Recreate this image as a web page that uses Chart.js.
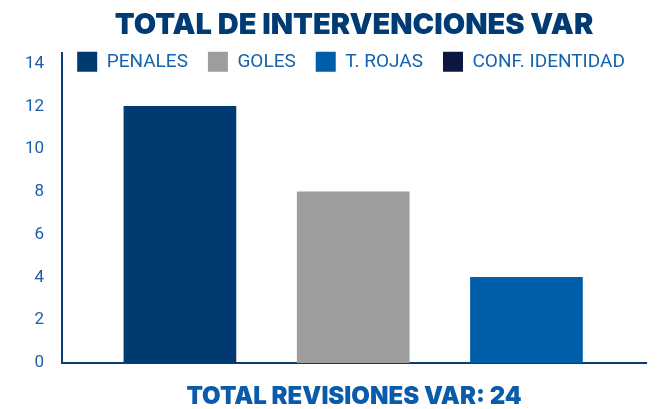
<!DOCTYPE html>
<html>
<head>
<meta charset="utf-8">
<script src="https://cdn.jsdelivr.net/npm/chart.js@4.4.1/dist/chart.umd.min.js"></script>
<style>
  html, body { margin: 0; padding: 0; background: #fff; }
  #wrap { width: 662px; height: 409px; }
</style>
</head>
<body>
<div id="wrap"><canvas id="myChart"></canvas></div>
<script>
// datos del grafico
var categorias = ["PENALES", "GOLES", "T. ROJAS", "CONF. IDENTIDAD"];
var valores = [12, 8, 4, 0];
var posiciones = [1, 2, 3, 4];
var yTicks = [0, 2, 4, 6, 8, 10, 12, 14];
var colores = ["#003a70", "#9d9d9d", "#005da8", "#0c1641"];
var total = valores.reduce(function (a, b) { return a + b; }, 0);

// la leyenda no ocupa sitio, se dibuja encima del area del grafico
var legendaEncima = {
    id: "legendaEncima",
    beforeInit: function (chart) {
	var fit = chart.legend.fit;
	chart.legend.fit = function () {
	    // todo en una linea
	    this.maxWidth = chart.width;
	    this.width = chart.width;
	    fit.bind(chart.legend)();
	    this.height = 0;
	};
    },
    afterLayout: function (chart) {
	var lg = chart.legend;
	var ca = chart.chartArea;
	lg.top = ca.top - 21;
	lg.height = 50;
	lg.bottom = lg.top + lg.height;
	lg.left = ca.left - 26;
	lg.right = ca.right + 20;
	lg.width = lg.right - lg.left;
    }
};

var datasets = [];
for (var i = 0; i < categorias.length; i++) {
    datasets.push({
	label: categorias[i],
	data: [{ x: posiciones[i], y: valores[i] }],
	backgroundColor: colores[i],
	grouped: false,
	barThickness: 112
    });
}

var ctx = document.getElementById("myChart").getContext("2d");
var myChart = new Chart(ctx, {
    type: "bar",
    data: { datasets: datasets },
    plugins: [legendaEncima],
    options: {
	responsive: true,
	maintainAspectRatio: false,
	animation: false,
	layout: { padding: { left: 7, right: 16, top: 0, bottom: 0 } },
	plugins: {
	    title: {
		display: true,
		text: "TOTAL DE INTERVENCIONES VAR",
		fullSize: false,
		color: "#003b73",
		font: { family: "Inter", size: 29, weight: 900, lineHeight: 1.2 },
		padding: { top: 8, bottom: 10 }
	    },
	    legend: {
		display: true,
		fullSize: false,
		align: "center",
		labels: {
		    boxWidth: 20,
		    boxHeight: 20,
		    padding: 20,
		    color: "#1563ae",
		    font: { family: "Roboto", size: 19 }
		}
	    },
	    tooltip: { enabled: false }
	},
	scales: {
	    x: {
		type: "linear",
		offset: false,
		min: 0.32,
		max: 3.69,
		grid: { display: false, drawTicks: false },
		ticks: { display: false },
		border: { display: true, color: "#0c3c74", width: 2 },
		title: {
		    display: true,
		    text: "TOTAL REVISIONES VAR: " + total,
		    color: "#0a5cab",
		    font: { family: "Inter", size: 24, weight: 900, lineHeight: 1 },
		    padding: { top: 22, bottom: 0 }
		}
	    },
	    y: {
		min: 0,
		max: 14.5,
		grid: { display: false, drawTicks: false },
		border: { display: true, color: "#0c3c74", width: 2 },
		afterBuildTicks: function (scale) {
		    scale.ticks = yTicks.map(function (v) { return { value: v }; });
		},
		ticks: {
		    padding: 18,
		    color: "#1c5ea7",
		    font: { family: "Roboto", size: 17 }
		}
	    }
	}
    }
});
</script>
</body>
</html>
